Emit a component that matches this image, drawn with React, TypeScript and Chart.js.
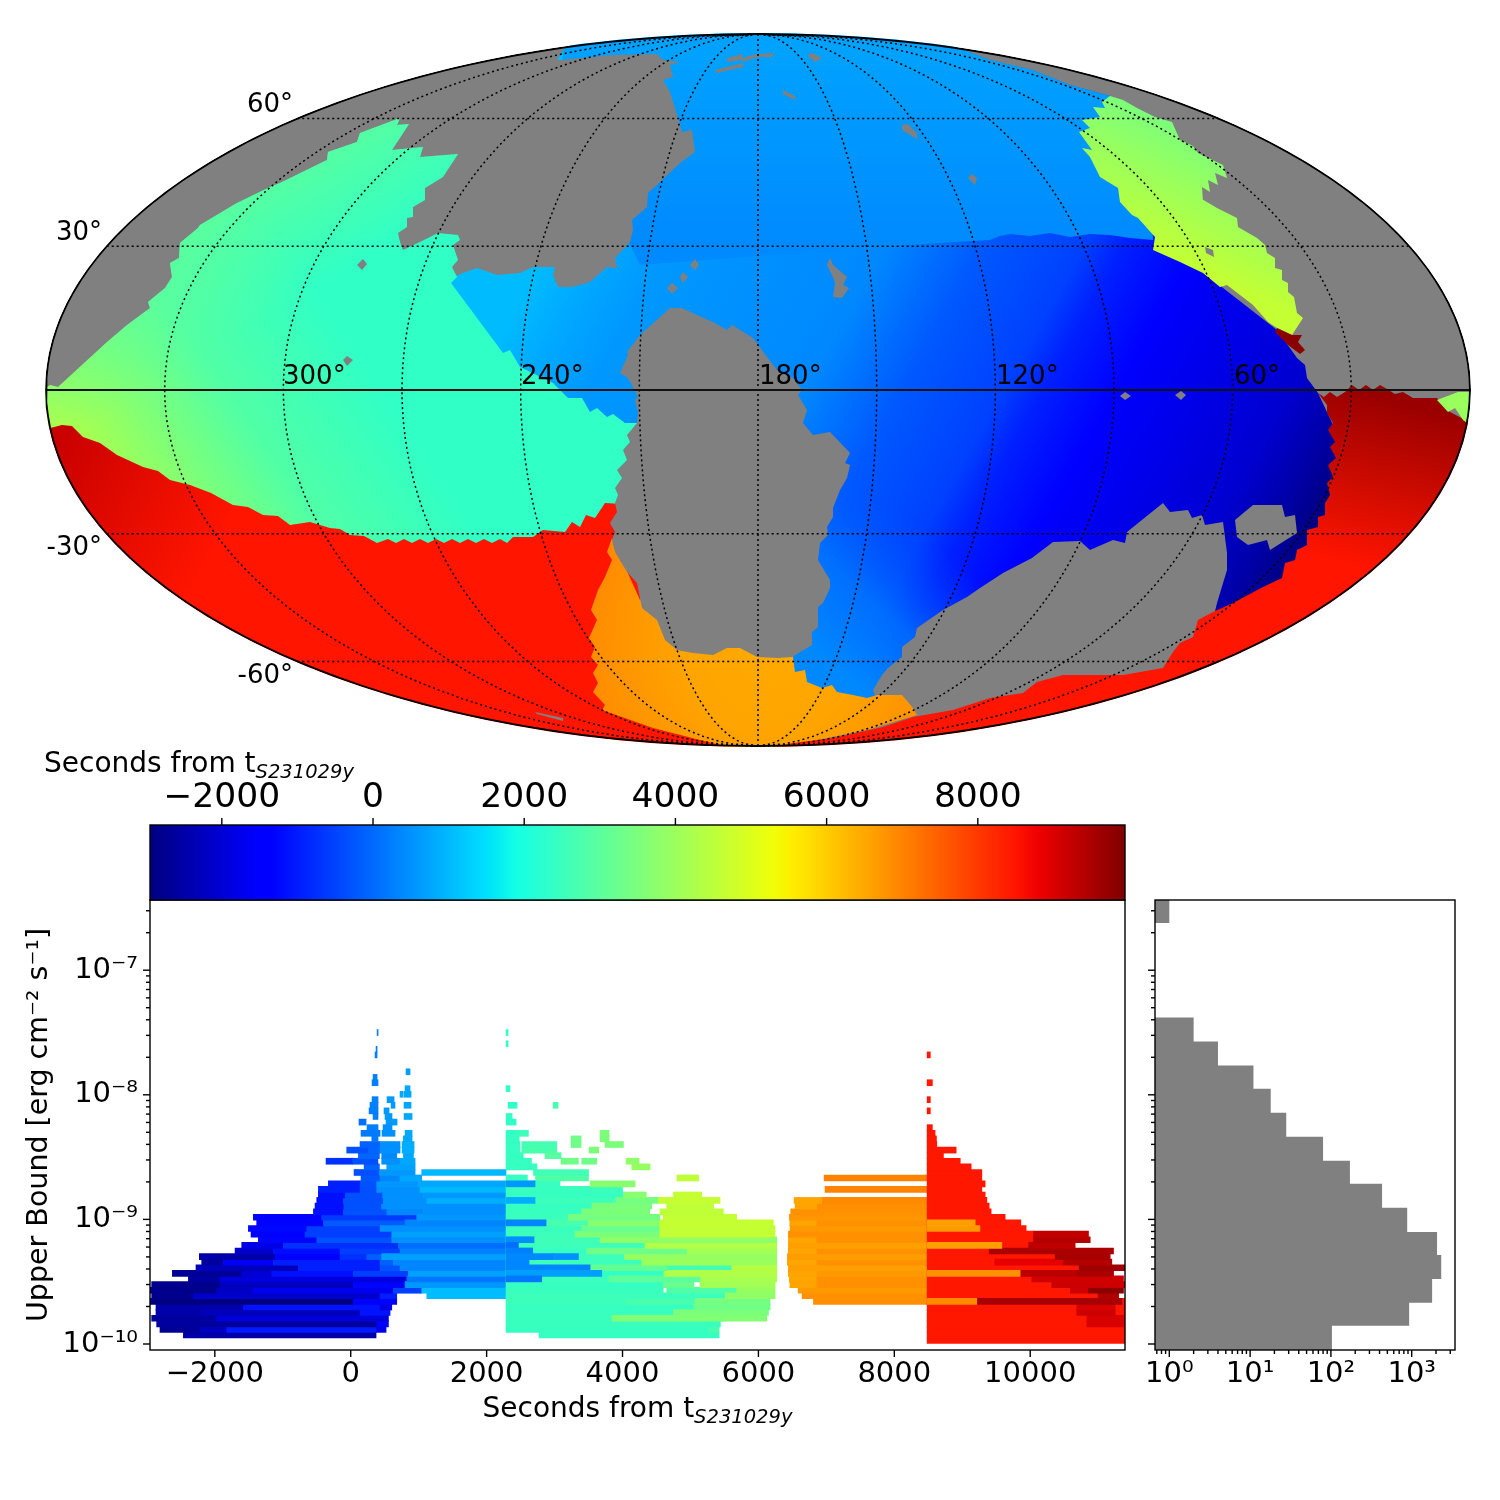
import React, { useEffect, useRef } from "react";
import { Chart, registerables } from "chart.js";
Chart.register(...registerables);

const FONT = "'DejaVu Sans'";
const GRAY = "#808080";

// ---------- time scale (colour bar) ----------
const tMin = -2950;
const tMax = 9947;
const colorbarTicks = [-2000, 0, 2000, 4000, 6000, 8000];
const jetStops: [number, string][] = [
  [0, "#000080"], [0.11, "#0000ff"], [0.125, "#0000ff"], [0.34, "#00dbff"], [0.35, "#00e5f7"],
  [0.375, "#14ffe6"], [0.64, "#f0ff08"], [0.65, "#f7f500"], [0.66, "#ffed00"], [0.89, "#ff1200"],
  [0.91, "#f00000"], [1, "#800000"],
];

// ---------- sky map: outlines in projected map units (x to the right, y up) ----------
const meridianLons = [-150, -120, -90, -60, -30, 0, 30, 60, 90, 120, 150];
const parallelLats = [-60, -30, 30, 60];
const lonLabels: [string, number, number][] = [["300°", -475, 13], ["240°", -237, 13], ["180°", 1, 13], ["120°", 238, 13], ["60°", 476, 13]];
const latLabels: [string, number, number][] = [["60°", -465, 285], ["30°", -656, 157], ["-30°", -656, -158], ["-60°", -465, -286]];

const blueMain = [[-195,340],[-158,365],[0,370],[192,345],[232,330],[274,320],[312,305],[352,294],[392,240],[442,120],[519,60],[539,32],[547,25],[549,12],[560,-3],[587,-60],[582,-170],[457,-250],[242,-310],[122,-330],[2,-330],[-118,-270],[-158,-60],[-300,-20],[-330,100]];
const blueTop = [[-195,340],[-158,365],[0,370],[192,345],[232,330],[274,320],[312,305],[352,294],[392,240],[395,150],[372,152],[352,155],[332,156],[312,153],[292,157],[272,154],[252,156],[242,154],[232,150],[147,145],[-118,125],[-198,290]];
const blueCorner = [[32,-10],[342,-10],[342,-310],[32,-310]];
const grayWedge = [[-198,330],[-145,335],[-101,336],[-95,330],[-78,328],[-88,325],[-85,313],[-95,310],[-88,298],[-80,272],[-76,258],[-66,260],[-63,238],[-78,227],[-98,208],[-110,197],[-111,183],[-126,170],[-125,160],[-128,148],[-143,132],[-141,122],[-151,123],[-168,108],[-186,103],[-200,103],[-205,115],[-203,123],[-225,123],[-238,117],[-261,115],[-281,122],[-306,113],[-318,190],[-218,330]];
const redLeft = [[-728,-10],[-558,-50],[-358,-115],[-118,-90],[-118,-300],[12,-345],[12,-370],[-728,-370]];
const tealArea = [[-718,-2],[-708,5],[-700,3],[-651,48],[-631,65],[-608,82],[-610,88],[-593,102],[-586,113],[-588,127],[-579,132],[-578,147],[-560,162],[-558,165],[-521,187],[-488,203],[-478,207],[-431,230],[-430,238],[-401,248],[-398,257],[-358,272],[-361,265],[-349,266],[-366,240],[-335,243],[-338,233],[-300,236],[-315,213],[-333,202],[-333,190],[-345,183],[-345,173],[-351,172],[-351,163],[-360,157],[-358,148],[-355,140],[-338,148],[-320,157],[-300,155],[-298,150],[-305,145],[-300,130],[-306,123],[-301,113],[-307,107],[-255,37],[-248,40],[-238,23],[-205,7],[-198,0],[-190,-8],[-176,-8],[-168,-22],[-161,-18],[-151,-27],[-145,-24],[-133,-33],[-118,-33],[-118,-115],[-153,-113],[-163,-128],[-172,-125],[-178,-137],[-186,-132],[-193,-142],[-215,-140],[-225,-147],[-245,-147],[-251,-153],[-258,-149],[-266,-153],[-274,-149],[-282,-153],[-290,-149],[-298,-153],[-306,-149],[-314,-153],[-322,-149],[-330,-153],[-338,-149],[-346,-153],[-354,-149],[-362,-153],[-370,-149],[-381,-153],[-394,-146],[-408,-145],[-418,-139],[-428,-138],[-448,-132],[-468,-135],[-480,-126],[-495,-125],[-510,-117],[-525,-115],[-547,-103],[-568,-95],[-588,-90],[-600,-81],[-615,-77],[-641,-65],[-658,-53],[-675,-47],[-686,-36],[-696,-35],[-708,-38],[-718,-38]];
const orangeArea = [[-146,-148],[-151,-162],[-146,-170],[-153,-187],[-160,-200],[-167,-220],[-161,-230],[-169,-248],[-163,-257],[-167,-267],[-160,-275],[-165,-283],[-160,-293],[-165,-302],[-153,-315],[-156,-320],[-105,-338],[-58,-350],[-25,-358],[25,-358],[59,-350],[109,-340],[159,-325],[155,-318],[144,-305],[119,-305],[109,-308],[95,-305],[79,-302],[74,-295],[64,-298],[49,-292],[47,-280],[37,-282],[34,-260],[-118,-210]];
const grayLower = [[115,-300],[124,-285],[130,-278],[144,-267],[144,-257],[157,-247],[159,-238],[185,-220],[209,-207],[222,-198],[245,-183],[274,-168],[295,-152],[322,-151],[332,-160],[355,-150],[367,-153],[369,-142],[405,-113],[412,-122],[430,-120],[434,-128],[444,-125],[447,-135],[465,-132],[469,-163],[469,-180],[459,-213],[455,-230],[440,-290],[342,-310],[159,-330],[119,-310]];
const grayCentral = [[-138,17],[-130,35],[-131,38],[-118,55],[-88,82],[-76,82],[-61,75],[-45,68],[-31,60],[-26,65],[-5,52],[9,33],[19,20],[35,12],[44,0],[40,-5],[49,-20],[45,-33],[55,-45],[72,-42],[92,-63],[87,-73],[92,-75],[89,-88],[82,-100],[75,-118],[75,-127],[69,-137],[70,-145],[62,-153],[60,-170],[72,-190],[72,-198],[65,-213],[60,-217],[60,-237],[54,-242],[54,-255],[34,-267],[20,-268],[-1,-267],[-18,-258],[-31,-258],[-45,-265],[-65,-263],[-81,-260],[-93,-250],[-101,-230],[-116,-218],[-121,-193],[-131,-182],[-143,-162],[-146,-150],[-143,-142],[-148,-133],[-141,-122],[-143,-113],[-140,-105],[-143,-98],[-136,-88],[-141,-80],[-131,-70],[-135,-60],[-128,-52],[-131,-45],[-121,-33],[-120,-22],[-123,-10],[-120,-7],[-130,12]];
const redRight = [[-13,-362],[35,-353],[75,-348],[125,-337],[155,-327],[195,-320],[232,-308],[265,-303],[279,-292],[305,-285],[365,-285],[405,-278],[415,-262],[422,-253],[435,-247],[440,-230],[455,-222],[475,-213],[505,-197],[524,-188],[527,-173],[537,-170],[539,-160],[549,-155],[549,-140],[560,-137],[560,-127],[567,-125],[567,-113],[572,-105],[569,-93],[575,-87],[570,-75],[578,-68],[572,-57],[577,-52],[570,-40],[575,-33],[569,-23],[569,-15],[560,-3],[566,-7],[572,-2],[579,-7],[587,-2],[594,5],[601,0],[608,5],[615,0],[622,5],[629,1],[637,-4],[645,-2],[655,-8],[679,-8],[692,-22],[717,-35],[722,-370],[-13,-370]];
const yellowArea = [[352,294],[365,290],[379,282],[397,273],[414,268],[422,250],[435,244],[440,237],[465,225],[469,212],[457,217],[460,205],[450,210],[452,198],[444,203],[445,188],[437,195],[459,182],[479,172],[480,163],[499,152],[507,145],[509,137],[517,132],[517,122],[524,120],[524,110],[530,107],[530,98],[536,93],[539,77],[545,72],[534,55],[519,62],[510,68],[495,85],[469,105],[462,103],[445,117],[422,128],[395,140],[397,153],[380,172],[374,175],[362,188],[360,202],[342,213],[332,233],[324,242],[334,240],[321,258],[332,262],[324,270],[342,273],[335,283],[347,282],[344,288]];
const greenPatch = [[679,-10],[700,-2],[712,-2],[712,-35],[705,-30],[697,-18],[690,-22]];
const darkRedPatch = [[519,62],[534,55],[544,55],[540,48],[547,40],[542,36],[530,45],[517,58]];
const grayIslands = [
  [[-31,332],[-16,336],[-16,330],[-31,328]],
  [[-16,332],[-1,336],[15,337],[15,333],[0,333],[-15,328]],
  [[-43,320],[-15,327],[-15,323],[-41,317]],
  [[49,335],[55,337],[64,332],[57,328]],
  [[25,300],[37,294],[37,290],[25,296]],
  [[144,265],[150,266],[159,257],[159,251],[144,260]],
  [[214,216],[219,212],[217,205],[210,212]],
  [[-63,131],[-59,125],[-63,120],[-68,125]],
  [[-75,118],[-70,113],[-75,107],[-78,113]],
  [[-86,107],[-80,102],[-86,96],[-91,102]],
  [[72,132],[75,125],[89,113],[85,105],[91,102],[84,92],[75,93],[77,107],[75,113],[69,125]],
  [[-395,131],[-391,126],[-396,120],[-401,125]],
  [[-411,34],[-405,30],[-411,24],[-415,30]],
  [[367,-2],[373,-6],[367,-10],[362,-6]],
  [[423,-1],[428,-5],[423,-10],[417,-5]],
  [[-223,-322],[-195,-328],[-195,-331],[-221,-324]],
  [[447,143],[455,140],[456,133],[448,137]],
  [[477,-130],[495,-115],[524,-115],[527,-127],[537,-125],[539,-143],[512,-160],[509,-150],[490,-155],[479,-147]],
];

// ---------- upper bound vs time: rows of flux, and bars [row, start s, end s, colour time s] ----------
const timeRange = { min: -2954, max: 11395 };
const timeTicks = [-2000, 0, 2000, 4000, 6000, 8000, 10000];
const fluxRange = { min: 8.95e-11, max: 3.66e-7 };
const rowFlux = [1.18e-10,1.31e-10,1.45e-10,1.61e-10,1.79e-10,1.98e-10,2.2e-10,2.44e-10,2.7e-10,3e-10,3.33e-10,3.69e-10,4.09e-10,4.54e-10,5.03e-10,5.58e-10,6.19e-10,6.87e-10,7.62e-10,8.45e-10,9.37e-10,1.04e-9,1.15e-9,1.28e-9,1.42e-9,1.57e-9,1.74e-9,1.93e-9,2.15e-9,2.38e-9,2.64e-9,2.93e-9,3.25e-9,3.6e-9,3.99e-9,4.43e-9,4.91e-9,5.45e-9,6.04e-9,6.7e-9,7.43e-9,8.24e-9,9.14e-9,1.01e-8,1.12e-8,1.25e-8,1.38e-8,1.53e-8,1.7e-8,1.89e-8,2.09e-8,2.32e-8,2.57e-8,2.85e-8,3.16e-8,1.07e-10];

const blueRows = [
  [0,-2463,373,-2500],[1,-2807,-2217,-2700],[1,-2217,-1825,-2245],[1,-1825,383,-1000],[1,383,520,-1800],
  [2,-2856,383,-2600],[2,383,555,-1500],[3,-2929,-1972,-2600],[3,-1972,555,-1950],
  [4,-2866,-2193,-2500],[4,-2193,138,-2300],[4,138,579,-1100],[5,-2866,-1580,-2450],[5,-1580,432,-1100],[5,432,604,-1800],
  [6,-2954,39,-2950],[6,39,677,-1500],[7,-2929,-2316,-2800],[7,-2316,432,-2100],[7,432,677,-950],
  [8,-2954,-1972,-2800],[8,-1972,-1433,-2200],[8,-1433,628,-1700],[8,628,1045,-530],
  [9,-2929,-1923,-2800],[9,-1923,39,-2240],[9,39,800,-1300],[10,-2389,-1923,-2600],[10,-1923,825,-1900],
  [11,-2625,-1604,-2700],[11,-1604,-1163,-2000],[11,-1163,39,-1140],[11,39,850,-535],
  [12,-2277,-770,-2300],[12,-770,432,-950],[12,432,726,-300],
  [13,-2193,-1874,-2600],[13,-1874,-1138,-1600],[13,-1138,432,-950],[13,432,628,-130],
  [14,-2228,-1114,-2500],[14,-1114,-157,-1500],[14,-157,236,-735],[14,236,456,-130],
  [15,-1702,-1138,-2100],[15,-1138,-157,-1200],[15,-157,726,-535],[16,-1604,-991,-1800],[16,-991,702,-735],
  [17,-1359,-500,-1300],[17,-500,604,-300],[18,-1467,-672,-1500],[18,-672,604,-535],
  [19,-1506,-648,-1250],[19,-648,432,-535],[20,-1384,-400,-1300],[20,-400,900,-200],
  [21,-1433,-427,-1500],[21,-427,972,-600],
];
const midBlueRows = [
  [22,-549,-108,-1140],[22,-108,530,-300],[22,530,1070,370],[23,-525,-100,-1140],[23,-100,456,-330],[23,456,825,480],
  [24,-500,-108,-1140],[24,-108,480,-330],[24,480,1119,480],[25,-476,-80,-1140],[25,-80,470,-330],[25,470,1070,480],
  [26,-476,138,-940],[26,138,383,-330],[26,383,1021,480],[27,-329,138,-940],[27,138,383,-300],[27,383,996,580],
  [28,152,432,-250],[28,432,726,370],[28,726,1045,780],[29,49,422,-330],[29,422,947,580],
  [30,197,422,-100],[30,530,947,680],[31,-363,29,-735],[31,29,400,-330],[31,456,726,480],[31,726,947,780],
  [32,113,422,-50],[32,456,677,400],[32,776,923,780],[33,-59,260,-330],[33,260,432,-50],[33,432,726,480],[33,756,932,850],
  [34,137,432,-100],[34,432,726,480],[34,756,932,850],[35,310,402,200],[35,775,903,780],
];
const sparseBlueRows = [
  [54,388,403,270],[51,373,388,270],[50,358,388,270],[47,814,873,650],[46,329,388,270],[45,314,402,270],[44,800,873,780],
  [43,726,770,780],[43,784,888,780],[42,314,402,270],[42,535,638,600],[41,284,402,270],[41,594,652,600],[41,785,888,780],
  [40,270,402,270],[40,490,564,600],[39,505,608,600],[39,785,903,780],[39,329,402,270],[38,122,226,60],[38,520,682,600],
  [37,240,402,270],[37,476,608,500],[36,152,432,200],[36,461,652,500],[36,800,903,800],
];
const blockRows = [
  [7,1119,2286,1050],[8,1045,2286,1050],[9,800,2286,580],[10,825,2286,170],[11,850,2286,680],[12,726,2286,370],[13,628,2286,370],
  [14,456,2286,680],[15,726,2286,270],[16,702,2286,60],[17,604,2286,480],[18,604,2286,680],[19,432,2286,480],[20,800,2286,330],
  [21,972,2286,580],[22,1070,2286,480],[23,825,2286,480],[24,1119,2286,885],[25,1070,2286,580],[26,1021,2286,985],[27,996,2286,780],[29,1045,2286,985],
];
const tealRows = [
  [0,2772,5422,2400],[1,2286,5363,2400],[1,5265,5422,2700],[2,2286,5440,2450],[3,2286,5510,2450],[4,2286,4750,2450],[5,2286,5050,2400],
  [6,2286,4050,2500],[6,4050,5750,2700],[7,2286,5510,2500],[8,2286,4600,2450],[8,4650,5760,2800],[9,2286,4600,2400],[10,2286,3800,2500],
  [11,2286,4610,2350],[12,2286,3375,2450],[12,4650,5610,2600],[13,2286,4285,2500],[14,2286,4030,2500],[15,2286,3473,2400],[16,2286,4330,2500],
  [17,2286,3670,2550],[18,2286,3300,2500],[19,2286,3400,2450],[20,2286,3500,2700],[21,2286,3200,2500],[22,2286,3400,2450],[23,2286,3550,2400],
  [24,2286,3900,2500],[25,2286,4015,2400],[26,2286,4000,2450],[27,2286,3080,2400],[28,2286,2600,2400],[28,2720,3500,2800],[29,2690,3500,2600],
  [30,2286,2740,2400],[31,2286,2660,2400],[32,2286,2540,2400],[33,2286,2490,2400],[33,2517,3032,2700],[34,2286,2490,2400],[34,2517,3032,2650],
  [35,2286,2480,2400],[36,2286,2448,2350],[36,2443,2615,2500],[38,2287,2434,2350],[39,2287,2375,2350],[41,2316,2448,2350],[41,2978,3052,2700],[44,2287,2345,2350],[52,2287,2316,2350],[54,2287,2316,2350],
];
const greenRows = [
  [3,3846,6123,3600],[4,4750,6148,3500],[5,5050,6172,3300],[6,5070,6172,3400],[7,5510,6245,3800],[8,5680,6245,3900],[9,4600,5050,3200],[9,5140,6245,4100],
  [10,3800,5150,3000],[10,5150,6270,4200],[11,4610,6270,4300],[12,3375,4650,3100],[12,5610,6270,4400],[13,4285,6270,4000],[14,4030,6270,3900],
  [15,3473,4950,3300],[15,4950,6270,4100],[16,4330,6270,4300],[17,3670,6270,3800],[18,3300,4550,3500],[19,3400,4550,3200],[20,3500,4550,3700],[21,3200,4550,3400],[22,3400,4400,3500],
  [23,3550,4430,3500],[24,3900,4530,3400],[25,4015,4350,3700],[27,3523,4185,3700],[30,4137,4406,3900],[31,3096,3351,3300],[31,3400,3620,3300],[31,4053,4244,3800],
  [32,2860,3096,2900],[33,3508,3650,3500],[34,3243,3390,3300],[34,3743,4013,3500],[35,3243,3390,3300],[35,3670,3803,3500],[36,3670,3802,3500],
];
const yellowRows = [
  [18,4550,6245,4600],[19,4550,6245,4600],[20,4550,6220,4650],[21,4600,5680,4600],[22,4550,5485,4550],[23,4650,5340,4550],[24,4530,5436,4650],[25,4750,5165,4650],[28,4800,5120,4550],
];
const blueOverTealRows = [
  [27,2286,2713,580],[24,2286,2713,885],[20,2286,2875,330],[17,2286,2698,480],[16,2286,2468,60],[15,2286,2679,270],[14,2286,2983,400],
  [14,2983,3351,500],[13,2286,2625,370],[12,2286,3523,370],[11,2286,3695,680],[10,2286,2811,170],
];
const orangeRows = [
  [6,6810,8483,6850],[7,6643,8483,6800],[8,6584,8483,6700],[9,6466,8483,6800],[9,6466,6850,6550],[10,6456,8483,6800],[10,6456,6850,6520],
  [11,6441,8483,6700],[11,6441,6850,6530],[12,6441,8483,6600],[13,6427,8483,6800],[13,6427,6850,6530],[14,6427,8483,6650],[15,6441,8483,6800],[15,6441,6850,6550],
  [16,6441,8483,6600],[17,6446,8483,6800],[17,6446,6850,6550],[18,6441,8483,6800],[19,6466,8483,6700],[20,6466,8483,6800],[20,6466,6850,6550],[21,6456,8483,6750],[22,6476,8483,6800],
  [23,6859,8483,6850],[23,6540,6859,6550],[24,6932,8483,6900],[24,6525,6932,6550],[26,6981,8483,7000],[28,6967,8483,7000],
];
const redRows = [
  [55,8483,11397,8470],[0,8483,11397,8470],[1,8483,11397,8470],[2,8483,11397,8470],[3,8483,11397,8470],[4,8483,11397,8470],[5,8483,11397,8470],[6,8483,11397,8470],
  [7,8483,11300,8470],[8,8483,11300,8470],[9,8483,10600,8470],[10,8483,10300,8470],[11,8483,10000,8470],[12,8483,10700,8470],[13,8483,9478,8470],[14,8483,10400,8470],[15,8483,9396,8470],
  [16,8483,9975,8470],[17,8483,10048,8470],[18,8483,10048,8470],[19,8483,9940,8470],[20,8483,9862,8470],[21,8483,9631,8470],[22,8483,9425,8470],[23,8483,9396,8470],[24,8483,9361,8470],
  [25,8483,9337,8470],[26,8483,9288,8470],[27,8483,9337,8470],[28,8483,9288,8470],[29,8483,9288,8470],[30,8483,9131,8470],[31,8483,8970,8470],[32,8483,8723,8470],[33,8483,8910,8470],[34,8483,8625,8470],
  [36,8483,8600,8470],[35,8483,8620,8470],[37,8483,8560,8470],[40,8483,8530,8470],[42,8483,8530,8470],[45,8483,8560,8470],[50,8483,8530,8470],
];
const darkRedRows = [
  [2,10833,11373,8950],[3,10833,11373,8950],[4,10686,11250,9100],[5,10686,11250,9000],[6,9214,11349,9500],[7,11000,11300,9400],[8,10590,10858,9100],[8,10858,11373,9800],
  [9,10318,11397,9100],[10,10024,11373,9050],[11,9852,10686,9300],[11,10686,11227,9450],[12,10711,11397,9600],[13,9478,10490,8800],[13,10490,11201,9350],[14,10367,11177,9500],
  [15,9396,11226,9450],[16,9975,10662,9250],[17,10048,10883,9350],[18,10048,10858,9200],
];
const orangeOverRedRows = [[6,8483,9214,6900],[11,8483,9852,6800],[16,8483,9582,6600],[19,8483,9260,6700],[20,8483,9190,6600]];

// ---------- histogram of the upper bounds ----------
const histEdges = [8.95e-11,1.4e-10,2.14e-10,3.33e-10,5.19e-10,7.94e-10,1.24e-9,1.93e-9,2.96e-9,4.61e-9,7.19e-9,1.12e-8,1.72e-8,2.68e-8,4.18e-8,6.47e-8,1e-7,1.55e-7,2.39e-7,3.66e-7];
const histCounts = [103,930,1790,2320,2060,880,430,172,80,28,18,11,4,2,0,0,0,0,1];
const histRange = { min: 0.665, max: 3436 };

// ---------- helpers ----------
function lerp(stops: number[][], f: number) {
  for (let i = 1; i < stops.length; i++) {
    if (f <= stops[i][0]) {
      const [a, va] = stops[i - 1];
      const [b, vb] = stops[i];
      return va + ((f - a) / (b - a)) * (vb - va);
    }
  }
  return stops[stops.length - 1][1];
}
function jet(t: number) {
  const f = Math.max(0, Math.min(1, (t - tMin) / (tMax - tMin)));
  const r = lerp([[0, 0], [0.35, 0], [0.66, 1], [0.89, 1], [1, 0.5]], f);
  const g = lerp([[0, 0], [0.125, 0], [0.375, 1], [0.64, 1], [0.91, 0], [1, 0]], f);
  const b = lerp([[0, 0.5], [0.11, 1], [0.34, 1], [0.65, 0], [1, 0]], f);
  return `rgb(${Math.round(r * 255)},${Math.round(g * 255)},${Math.round(b * 255)})`;
}
function theta(latDeg: number) {
  const lat = (latDeg * Math.PI) / 180;
  if (Math.abs(latDeg) >= 90) return Math.sign(latDeg) * (Math.PI / 2);
  let th = lat;
  for (let i = 0; i < 40; i++) th -= (2 * th + Math.sin(2 * th) - Math.PI * Math.sin(lat)) / (2 + 2 * Math.cos(2 * th));
  return th;
}
const RX = 712;
const RY = 356;
function project(lon: number, lat: number) {
  const th = theta(lat);
  return { x: RX * (lon / 180) * Math.cos(th), y: RY * Math.sin(th) };
}
const pts = (a: number[][]) => a.map(([x, y]) => ({ x, y }));
function linearFill(p0: number[], p1: number[], stops: [number, string][]) {
  return (c: any) => {
    const { chart } = c;
    const sx = chart.scales.x, sy = chart.scales.y;
    if (!sx || !sy || !chart.chartArea) return stops[0][1];
    const g = chart.ctx.createLinearGradient(sx.getPixelForValue(p0[0]), sy.getPixelForValue(p0[1]), sx.getPixelForValue(p1[0]), sy.getPixelForValue(p1[1]));
    stops.forEach(([o, col]) => g.addColorStop(o, col));
    return g;
  };
}
function radialFill(p: number[], r: number, stops: [number, string][]) {
  return (c: any) => {
    const { chart } = c;
    const sx = chart.scales.x, sy = chart.scales.y;
    if (!sx || !sy || !chart.chartArea) return stops[0][1];
    const px = sx.getPixelForValue(p[0]), py = sy.getPixelForValue(p[1]);
    const g = chart.ctx.createRadialGradient(px, py, 0, px, py, Math.abs(sx.getPixelForValue(p[0] + r) - px));
    stops.forEach(([o, col]) => g.addColorStop(o, col));
    return g;
  };
}
function area(label: string, poly: number[][], color: any) {
  return { label, data: pts(poly), showLine: true, fill: "shape", backgroundColor: color, borderWidth: 0, pointRadius: 0, tension: 0 };
}
function curve(label: string, data: { x: number; y: number }[], width: number, dash: number[], color = "#000") {
  return { label, data, showLine: true, fill: false, borderColor: color, borderWidth: width, borderDash: dash, pointRadius: 0, tension: 0 };
}
function isDecade(v: number) {
  const l = Math.log10(v);
  return Math.abs(l - Math.round(l)) < 1e-6;
}
const supers: Record<string, string> = { "-": "⁻", "0": "⁰", "1": "¹", "2": "²", "3": "³", "4": "⁴", "5": "⁵", "6": "⁶", "7": "⁷", "8": "⁸", "9": "⁹" };
function powerLabel(v: number) {
  if (!isDecade(v)) return "";
  return "10" + String(Math.round(Math.log10(v))).split("").map((c) => supers[c]).join("");
}
const minusLabel = (v: any) => String(v).replace("-", "−");
function fixAxis(prop: "width" | "height", size: number) {
  return (s: any) => {
    s[prop] = size;
    s.paddingLeft = s.paddingRight = s.paddingTop = s.paddingBottom = 0;
  };
}

const axisMarks = {
  id: "axisMarks",
  afterDraw(chart: any, _a: any, opts: any) {
    const { ctx, chartArea: ca } = chart;
    ctx.save();
    ctx.strokeStyle = "#000";
    ctx.lineWidth = 1.4;
    ctx.strokeRect(ca.left, ca.top, ca.right - ca.left, ca.bottom - ca.top);
    (opts.axes || []).forEach((id: string) => {
      const s = chart.scales[id];
      s.ticks.forEach((t: any) => {
        const log = s.type === "logarithmic";
        if (log) {
          const m = t.value / Math.pow(10, Math.floor(Math.log10(t.value) + 1e-9));
          if (Math.abs(m - Math.round(m)) > 0.01) return;
        }
        const len = !log || isDecade(t.value) ? 7 : 4;
        const p = s.getPixelForValue(t.value);
        ctx.beginPath();
        if (s.position === "left") { ctx.moveTo(ca.left, p); ctx.lineTo(ca.left - len, p); }
        else if (s.position === "top") { ctx.moveTo(p, ca.top); ctx.lineTo(p, ca.top - len); }
        else { ctx.moveTo(p, ca.bottom); ctx.lineTo(p, ca.bottom + len); }
        ctx.stroke();
      });
    });
    ctx.restore();
  },
};
function drawTimeLabel(ctx: any, x: number, y: number, center: boolean) {
  const main = "Seconds from t";
  const sub = "S231029y";
  ctx.save();
  ctx.fillStyle = "#000";
  ctx.textBaseline = "alphabetic";
  ctx.textAlign = "left";
  ctx.font = `28px ${FONT}`;
  const w1 = ctx.measureText(main).width;
  ctx.font = `italic 19.5px ${FONT}`;
  const w2 = ctx.measureText(sub).width;
  const x0 = center ? x - (w1 + w2) / 2 : x;
  ctx.font = `28px ${FONT}`;
  ctx.fillText(main, x0, y);
  ctx.font = `italic 19.5px ${FONT}`;
  ctx.fillText(sub, x0 + w1, y + 6);
  ctx.restore();
}
const ellipseClip = {
  id: "ellipseClip",
  beforeDatasetsDraw(chart: any) {
    const { ctx, scales: { x, y } } = chart;
    ctx.save();
    ctx.beginPath();
    ctx.ellipse(x.getPixelForValue(0), y.getPixelForValue(0), Math.abs(x.getPixelForValue(RX) - x.getPixelForValue(0)) + 1, Math.abs(y.getPixelForValue(RY) - y.getPixelForValue(0)) + 1, 0, 0, Math.PI * 2);
    ctx.clip();
  },
  afterDatasetsDraw(chart: any) {
    const { ctx, scales: { x, y } } = chart;
    ctx.restore();
    ctx.save();
    ctx.fillStyle = "#000";
    ctx.font = `26px ${FONT}`;
    ctx.textBaseline = "middle";
    ctx.textAlign = "left";
    lonLabels.forEach(([t, a, b]) => ctx.fillText(t, x.getPixelForValue(a), y.getPixelForValue(b)));
    ctx.textAlign = "right";
    latLabels.forEach(([t, a, b]) => ctx.fillText(t, x.getPixelForValue(a), y.getPixelForValue(b)));
    ctx.restore();
  },
};

function mapDatasets() {
  const outline: { x: number; y: number }[] = [];
  for (let a = 0; a <= 360; a += 2) outline.push({ x: RX * Math.cos((a * Math.PI) / 180), y: RY * Math.sin((a * Math.PI) / 180) });
  const lats: number[] = [];
  for (let l = -90; l <= 90; l += 2) lats.push(l);
  const blueStops: [number, string][] = [[0, "#00bcff"], [0.066, "#00a8ff"], [0.132, "#0098ff"], [0.365, "#0088ff"], [0.473, "#0058ff"], [0.58, "#0040ff"], [0.622, "#0020ff"], [0.702, "#0000ff"], [0.891, "#0000d0"], [0.951, "#0000a8"], [1, "#000080"]];
  const layers: any[] = [
    area("sky", outline.map((p) => [p.x, p.y]), GRAY),
    area("blue", blueMain, linearFill([-258, 60], [446, -336], blueStops)),
    area("blue top", blueTop, linearFill([0, 340], [0, 150], [[0, "#00a2ff"], [1, "#008aff"]])),
    area("blue corner", blueCorner, linearFill([92, -290], [202, -170], [[0, "rgba(0,136,255,1)"], [0.45, "rgba(0,120,255,0.8)"], [1, "rgba(0,80,255,0)"]])),
    area("gray wedge", grayWedge, GRAY),
    area("red left", redLeft, linearFill([-698, -40], [-528, -130], [[0, "#c80000"], [1, "#ff1500"]])),
    area("teal", tealArea, linearFill([-678, -90], [-318, 150], [[0, "#b8ff3f"], [0.15, "#90ff66"], [0.4, "#50ffa6"], [0.7, "#30ffc6"], [1, "#30ffc6"]])),
    area("teal upper", tealArea, linearFill([-428, 245], [-368, 145], [[0, "rgba(96,255,152,0.8)"], [1, "rgba(96,255,152,0)"]])),
    area("gray lower", grayLower, GRAY),
    area("orange", orangeArea, radialFill([12, -260], 190, [[0, "#ffaa00"], [0.45, "#ffa400"], [0.75, "#ff9600"], [1, "#ff8a00"]])),
    area("gray central", grayCentral, GRAY),
    area("red right", redRight, linearFill([572, 5], [532, -160], [[0, "#9a0000"], [1, "#ff1500"]])),
    area("yellow", yellowArea, linearFill([432, 280], [372, 150], [[0, "#70ff86"], [1, "#c4ff33"]])),
    area("green patch", greenPatch, "#9aff5d"),
    area("dark red", darkRedPatch, "#8b0000"),
    ...grayIslands.map((p, i) => area("island " + i, p, GRAY)),
    ...meridianLons.map((lon) => curve("lon " + lon, lats.map((l) => project(lon, l)), 1.5, [2, 3])),
    ...parallelLats.map((lat) => curve("lat " + lat, [project(-180, lat), project(180, lat)], 1.5, [2, 3])),
    curve("equator", [project(-180, 0), project(180, 0)], 2, [], "#111"),
    curve("outline", outline, 2, []),
  ];
  return layers.reverse();
}
function barSet(label: string, rows: number[][]) {
  return {
    label,
    data: rows.map(([k, a, b]) => ({ x: [a, b], y: rowFlux[k] })),
    backgroundColor: rows.map((r) => jet(r[3])),
    borderWidth: 0,
    barThickness: 6,
    grouped: false,
  };
}

export default function App() {
  const mapRef = useRef<HTMLCanvasElement>(null);
  const cbRef = useRef<HTMLCanvasElement>(null);
  const mainRef = useRef<HTMLCanvasElement>(null);
  const histRef = useRef<HTMLCanvasElement>(null);
  useEffect(() => {
    const base = { responsive: false, animation: false as const, devicePixelRatio: 1, events: [] as any[] };
    const quiet = { legend: { display: false }, title: { display: false }, tooltip: { enabled: false } };

    const map = new Chart(mapRef.current!, {
      type: "scatter",
      data: { datasets: mapDatasets() },
      options: {
        ...base,
        layout: { padding: 0 },
        scales: { x: { type: "linear", display: false, min: -758, max: 742 }, y: { type: "linear", display: false, min: -370, max: 390 } },
        plugins: { ...quiet },
      },
      plugins: [ellipseClip],
    } as any);

    const cb = new Chart(cbRef.current!, {
      type: "scatter",
      data: {
        datasets: [{
          label: "colour scale",
          data: [{ x: tMin, y: 0 }, { x: tMax, y: 0 }, { x: tMax, y: 1 }, { x: tMin, y: 1 }],
          showLine: true, fill: "shape", borderWidth: 0, pointRadius: 0,
          backgroundColor: linearFill([tMin, 0], [tMax, 0], jetStops),
        }],
      },
      options: {
        ...base,
        layout: { padding: { left: 150, right: 10, bottom: 10, top: 0 } },
        scales: {
          x: {
            type: "linear", position: "top", min: tMin, max: tMax,
            afterFit: fixAxis("height", 85),
            grid: { display: false, drawTicks: false }, border: { display: false },
            afterBuildTicks: (s: any) => { s.ticks = colorbarTicks.map((value) => ({ value })); },
            ticks: { autoSkip: false, maxRotation: 0, padding: 6, color: "#000", font: { family: FONT, size: 34.5 }, callback: minusLabel },
          },
          y: { type: "linear", display: false, min: 0, max: 1 },
        },
        plugins: { ...quiet, axisMarks: { axes: ["x"] } },
      },
      plugins: [axisMarks, { id: "cbTitle", afterDraw: (c: any) => drawTimeLabel(c.ctx, c.chartArea.left - 106, c.chartArea.top - 53, false) }],
    } as any);

    const main = new Chart(mainRef.current!, {
      type: "bar",
      data: {
        datasets: [
          barSet("blue", blueRows), barSet("mid blue", midBlueRows), barSet("sparse blue", sparseBlueRows), barSet("light blue", blockRows),
          barSet("teal", tealRows), barSet("green", greenRows), barSet("yellow", yellowRows), barSet("blue over teal", blueOverTealRows),
          barSet("orange", orangeRows), barSet("red", redRows), barSet("dark red", darkRedRows), barSet("orange over red", orangeOverRedRows),
        ].reverse(),
      },
      options: {
        ...base,
        indexAxis: "y",
        layout: { padding: { top: 10, right: 10 } },
        scales: {
          x: {
            type: "linear", position: "bottom", min: timeRange.min, max: timeRange.max,
            afterFit: fixAxis("height", 100),
            grid: { display: false, drawTicks: false }, border: { display: false },
            afterBuildTicks: (s: any) => { s.ticks = timeTicks.map((value) => ({ value })); },
            ticks: { autoSkip: false, maxRotation: 0, padding: 7, color: "#000", font: { family: FONT, size: 29 }, callback: minusLabel },
          },
          y: {
            type: "logarithmic", position: "left", min: fluxRange.min, max: fluxRange.max,
            afterFit: fixAxis("width", 150),
            grid: { display: false, drawTicks: false }, border: { display: false },
            title: { display: true, text: "Upper Bound [erg cm⁻² s⁻¹]", color: "#000", font: { family: FONT, size: 28.5 }, padding: { top: 22, bottom: 0 } },
            ticks: { autoSkip: false, padding: 12, color: "#000", font: { family: FONT, size: 29 }, callback: powerLabel },
          },
        },
        plugins: { ...quiet, axisMarks: { axes: ["x", "y"] } },
      },
      plugins: [axisMarks, { id: "xTitle", afterDraw: (c: any) => drawTimeLabel(c.ctx, (c.chartArea.left + c.chartArea.right) / 2, c.chartArea.bottom + 67, true) }],
    } as any);

    const histPoly: { x: number; y: number }[] = [{ x: 0.5, y: histEdges[0] }];
    histCounts.forEach((n, i) => {
      const v = n > 0 ? n : 0.5;
      histPoly.push({ x: v, y: histEdges[i] }, { x: v, y: histEdges[i + 1] });
    });
    histPoly.push({ x: 0.5, y: histEdges[histEdges.length - 1] });
    const hist = new Chart(histRef.current!, {
      type: "scatter",
      data: { datasets: [{ label: "count", data: histPoly, showLine: true, fill: "shape", backgroundColor: GRAY, borderWidth: 0, pointRadius: 0, tension: 0 }] },
      options: {
        ...base,
        layout: { padding: { top: 10, right: 10 } },
        scales: {
          x: {
            type: "logarithmic", position: "bottom", min: histRange.min, max: histRange.max,
            afterFit: fixAxis("height", 100),
            grid: { display: false, drawTicks: false }, border: { display: false },
            ticks: { autoSkip: false, maxRotation: 0, padding: 7, color: "#000", font: { family: FONT, size: 29 }, callback: powerLabel },
          },
          y: {
            type: "logarithmic", position: "left", min: fluxRange.min, max: fluxRange.max,
            afterFit: fixAxis("width", 15),
            grid: { display: false, drawTicks: false }, border: { display: false },
            ticks: { autoSkip: false, padding: 0, callback: () => "" },
          },
        },
        plugins: { ...quiet, axisMarks: { axes: ["x", "y"] } },
      },
      plugins: [axisMarks],
    } as any);

    return () => { map.destroy(); cb.destroy(); main.destroy(); hist.destroy(); };
  }, []);

  const at = (left: number, top: number): React.CSSProperties => ({ position: "absolute", left, top, display: "block" });
  return (
    <div style={{ position: "absolute", left: 0, top: 0, width: 1500, height: 1500, background: "#fff", overflow: "hidden" }}>
      <canvas ref={mapRef} width={1500} height={760} style={at(0, 0)} />
      <canvas ref={mainRef} width={1135} height={560} style={at(0, 890)} />
      <canvas ref={cbRef} width={1135} height={170} style={at(0, 740)} />
      <canvas ref={histRef} width={325} height={560} style={at(1140, 890)} />
    </div>
  );
}
